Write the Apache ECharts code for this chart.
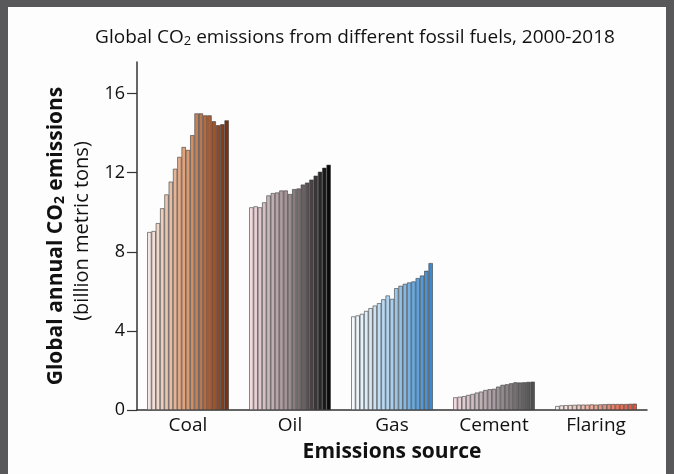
<!DOCTYPE html>
<html>
<head>
<meta charset="utf-8">
<script src="https://cdn.jsdelivr.net/npm/echarts@6/dist/echarts.min.js"></script>
<style>
html,body{margin:0;padding:0;background:#58585a;width:674px;height:474px;overflow:hidden;}
#panel{position:absolute;left:8px;top:7px;width:658px;height:467px;background:#fdfdfd;}
#chart{position:absolute;left:0;top:0;width:674px;height:474px;}
</style>
</head>
<body>
<div id="panel"></div>
<div id="chart"></div>
<script>
const categories = ['Coal', 'Oil', 'Gas', 'Cement', 'Flaring'];
const years = ['2000','2001','2002','2003','2004','2005','2006','2007','2008','2009','2010','2011','2012','2013','2014','2015','2016','2017','2018'];
const coal = [9.0, 9.05, 9.45, 10.2, 10.9, 11.55, 12.2, 12.8, 13.3, 13.15, 13.9, 15.0, 15.0, 14.9, 14.9, 14.6, 14.4, 14.45, 14.65];
const oil = [10.25, 10.3, 10.25, 10.5, 10.85, 10.97, 11.0, 11.1, 11.1, 10.92, 11.17, 11.2, 11.4, 11.5, 11.65, 11.85, 12.05, 12.25, 12.4];
const gas = [4.73, 4.78, 4.86, 5.01, 5.15, 5.28, 5.4, 5.6, 5.79, 5.62, 6.16, 6.28, 6.38, 6.45, 6.5, 6.67, 6.8, 7.04, 7.43];
const cement = [0.64, 0.67, 0.7, 0.76, 0.81, 0.88, 0.93, 1.01, 1.05, 1.07, 1.18, 1.27, 1.3, 1.35, 1.4, 1.39, 1.4, 1.42, 1.43];
const flaring = [0.2, 0.23, 0.24, 0.25, 0.26, 0.27, 0.27, 0.27, 0.28, 0.27, 0.28, 0.29, 0.3, 0.3, 0.3, 0.3, 0.3, 0.31, 0.32];
const yTicks = [0, 4, 8, 12, 16];

const values = [coal, oil, gas, cement, flaring];
const palettes = [
  ['#f5e8e4', '#dc9a70', '#7a3210'],
  ['#f2dadd', '#9a8b8f', '#0a0a0a'],
  ['#f6fafd', '#a8cfee', '#3d8ad0'],
  ['#f0dae0', '#a89ca0', '#505050'],
  ['#f6f0ee', '#eba592', '#e0553a']
];
function hex(c){return [parseInt(c.slice(1,3),16),parseInt(c.slice(3,5),16),parseInt(c.slice(5,7),16)];}
function mix(a,b,t){const A=hex(a),B=hex(b);return 'rgb('+A.map((v,i)=>Math.round(v+(B[i]-v)*t)).join(',')+')';}
function colorFor(k,i){
  const t=i/(years.length-1); const p=palettes[k];
  return t<0.5?mix(p[0],p[1],t*2):mix(p[1],p[2],(t-0.5)*2);
}

const series = years.map((y,i)=>({
  name: y,
  type: 'bar',
  barGap: '0%',
  barCategoryGap: '20%',
  itemStyle: {borderColor: '#3a3a3a', borderWidth: 0.6},
  data: categories.map((c,k)=>({value: values[k][i], itemStyle: {color: colorFor(k,i)}}))
}));

const FONT = 'Open Sans';
const chart = echarts.init(document.getElementById('chart'));
chart.setOption({
  backgroundColor: 'transparent',
  animation: false,
  textStyle: {fontFamily: FONT},
  title: {
    text: 'Global CO{s|2} emissions from different fossil fuels, 2000-2018',
    left: 350, top: 22, textAlign: 'center',
    textStyle: {fontFamily: FONT, fontSize: 19, fontWeight: 'normal', color: '#111',
      rich: {s: {fontFamily: FONT, fontSize: 13, color: '#111', padding: [8,0,0,0]}}}
  },
  grid: {left: 137, right: 27, top: 62, bottom: 64},
  xAxis: {
    type: 'category',
    data: categories,
    axisLine: {lineStyle: {color: '#333', width: 1.5}},
    axisTick: {show: false},
    axisLabel: {fontFamily: FONT, fontSize: 19, color: '#111', margin: 6},
    name: 'Emissions source',
    nameLocation: 'middle',
    nameGap: 32,
    nameTextStyle: {fontFamily: FONT, fontSize: 21, fontWeight: 'bold', color: '#111'}
  },
  yAxis: {
    type: 'value',
    min: 0, max: 17.6,
    splitLine: {show: false},
    axisLine: {show: true, lineStyle: {color: '#333', width: 1.5}},
    axisTick: {show: true, length: 10, customValues: yTicks, lineStyle: {color: '#333', width: 1.2}},
    axisLabel: {fontFamily: FONT, fontSize: 18, color: '#111', margin: 12, customValues: yTicks}
  },
  graphic: [
    {type: 'text', x: 56, y: 236, rotation: Math.PI/2,
     style: {text: '{b|Global annual CO}{bs|2}{b| emissions}', align: 'center', verticalAlign: 'middle',
       rich: {b: {fontFamily: FONT, fontSize: 21, fontWeight: 'bold', fill: '#111'},
              bs: {fontFamily: FONT, fontSize: 14, fontWeight: 'bold', fill: '#111', padding: [9,0,0,0]}}}},
    {type: 'text', x: 82, y: 231, rotation: Math.PI/2,
     style: {text: '(billion metric tons)', align: 'center', verticalAlign: 'middle',
       font: '20px "Open Sans"', fill: '#111'}}
  ],
  series: series
});
</script>
</body>
</html>
